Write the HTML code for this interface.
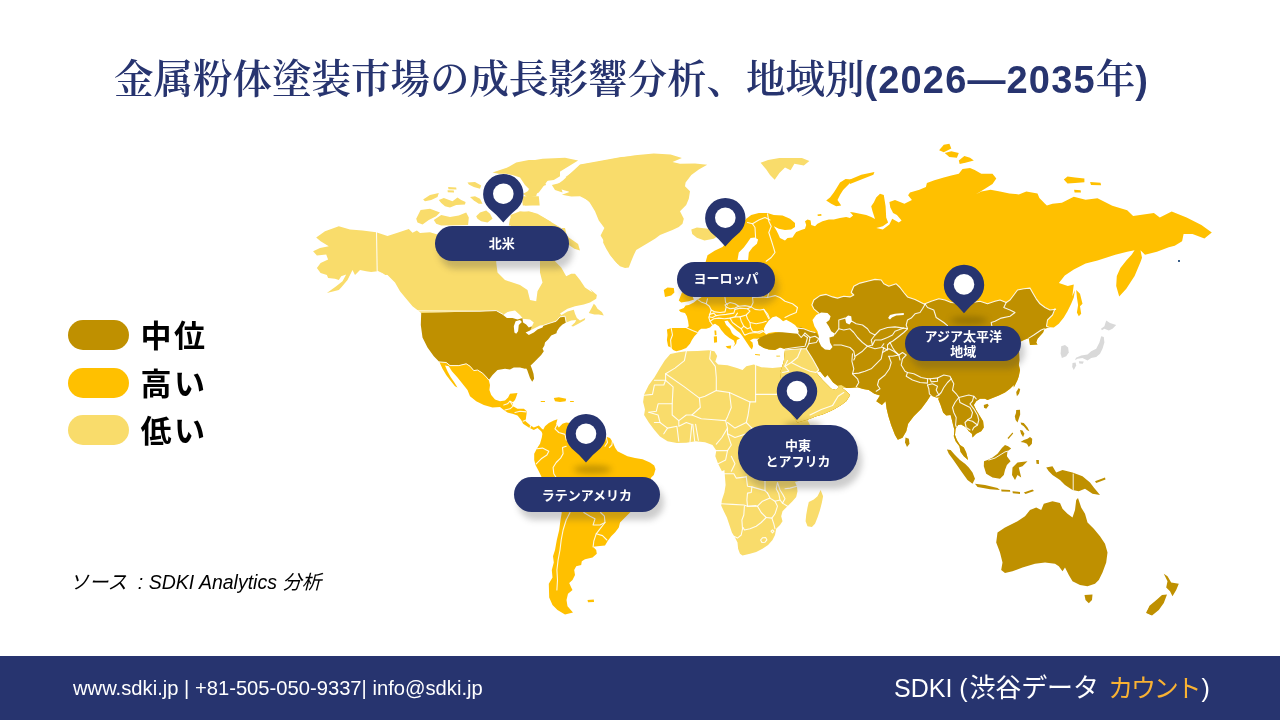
<!DOCTYPE html>
<html lang="ja">
<head>
<meta charset="utf-8">
<title>金属粉体塗装市場の成長影響分析、地域別</title>
<style>
html,body{margin:0;padding:0;}
body{width:1280px;height:720px;position:relative;overflow:hidden;background:#fff;font-family:"Liberation Sans","Noto Sans CJK JP",sans-serif;}
#title{position:absolute;left:114px;top:51.5px;height:56px;line-height:56px;white-space:nowrap;color:#27346f;font-family:"Liberation Serif","Noto Serif CJK JP","Noto Serif CJK SC",serif;font-size:39.5px;font-weight:600;letter-spacing:0px;}
#title b{font-family:"Liberation Sans","Noto Sans CJK JP",sans-serif;font-weight:700;font-size:38px;letter-spacing:1.15px;}
.pill{position:absolute;left:68px;width:61px;height:30px;border-radius:15px;}
.lg{position:absolute;left:140.5px;font-size:31px;font-weight:700;color:#000;letter-spacing:2.6px;margin-top:1px;height:40px;line-height:40px;white-space:nowrap;font-family:"Liberation Sans","Noto Sans CJK JP",sans-serif;}
#src{position:absolute;left:69.5px;top:567.8px;height:28px;line-height:28px;font-size:19.5px;font-style:italic;color:#000;white-space:nowrap;}
#footer{position:absolute;left:0;top:656px;width:1280px;height:64px;background:#27346f;}
#fl{position:absolute;left:73px;top:672px;height:32px;line-height:32px;color:#fff;font-size:20.2px;white-space:nowrap;}
#fr{position:absolute;left:894px;top:670px;height:36px;line-height:36px;color:#fff;font-size:25px;white-space:nowrap;}
#fr span{color:#f9b233;letter-spacing:-2.3px;margin-right:2.5px;margin-left:2.4px;}
#fr i.k{font-style:normal;font-size:26px;letter-spacing:-0.1px;margin-left:1.8px;}
#map{position:absolute;left:0;top:0;width:1280px;height:720px;}
.lab{position:absolute;background:#27346f;color:#fff;font-weight:700;font-size:13px;text-align:center;white-space:nowrap;font-family:"Liberation Sans","Noto Sans CJK JP",sans-serif;box-shadow:4px 8px 6px rgba(60,60,60,0.26);}
.lab div{position:absolute;left:0;width:100%;height:16px;line-height:16px;}
</style>
</head>
<body>
<svg id="map" viewBox="0 0 1280 720">
<!--MAP-->
<polygon points="316.2,237.5 325.0,231.2 338.8,226.2 350.0,229.4 362.5,230.6 376.2,232.2 387.5,236.0 397.5,232.8 408.8,229.0 412.5,232.8 416.9,230.6 420.0,233.1 430.0,232.2 437.5,234.4 437.5,237.5 462.5,237.5 462.5,292.5 403.8,292.5 400.0,286.2 395.0,280.0 390.0,274.4 385.0,275.0 377.5,271.2 371.2,271.9 366.2,271.2 360.0,270.0 355.0,275.0 352.5,270.0 347.5,280.0 341.2,287.5 338.8,290.0 326.9,293.1 336.2,286.2 342.5,281.2 346.2,274.4 341.2,276.2 338.8,280.0 335.0,278.8 328.1,278.1 326.9,275.0 320.6,273.1 316.9,268.1 320.6,263.1 328.1,259.4 326.2,254.4 316.9,255.6 313.1,251.2 320.0,248.1 328.8,246.2 320.6,241.2" fill="#f9dc6b"/>
<polygon points="416.2,218.8 420.6,210.0 430.0,208.8 440.0,212.5 436.2,216.2 428.8,220.0 422.5,224.4 417.5,222.5" fill="#f9dc6b"/>
<polygon points="433.8,220.0 441.2,215.0 450.0,216.9 458.8,215.6 466.2,212.5 468.8,217.5 468.1,225.0 441.2,225.6 436.2,223.8" fill="#f9dc6b"/>
<polygon points="423.1,199.4 430.0,195.0 438.8,193.1 437.5,196.9 431.2,200.0 425.0,201.2" fill="#f9dc6b"/>
<polygon points="438.8,200.0 443.8,198.1 452.5,201.2 457.5,197.5 461.2,200.0 465.6,201.9 465.0,204.4 456.2,205.0 450.0,207.5 445.0,206.2 441.2,203.1" fill="#f9dc6b"/>
<polygon points="448.1,186.9 456.2,187.5 456.5,189.5 448.5,189.2" fill="#f9dc6b"/>
<polygon points="447.5,190.2 453.8,190.5 454.0,192.5 447.8,192.2" fill="#f9dc6b"/>
<polygon points="467.5,182.5 475.0,181.9 481.2,185.6 480.0,188.8 473.8,186.9 468.8,184.4" fill="#f9dc6b"/>
<polygon points="470.0,196.9 475.0,196.2 480.0,198.8 482.5,203.8 478.8,203.8 473.8,200.6" fill="#f9dc6b"/>
<polygon points="476.2,216.2 480.0,212.5 486.2,210.6 490.0,213.8 492.5,218.8 487.5,222.5 481.2,221.2 477.5,218.8" fill="#f9dc6b"/>
<polygon points="523.1,193.8 530.0,190.0 537.5,191.2 536.2,196.2 527.5,197.5" fill="#f9dc6b"/>
<polygon points="523.8,202.5 531.2,201.9 532.5,205.0 525.0,205.6" fill="#f9dc6b"/>
<polygon points="510.0,218.8 520.0,212.5 528.8,211.2 537.5,213.8 543.8,217.5 550.0,221.2 553.8,225.6 508.8,225.6" fill="#f9dc6b"/>
<polygon points="492.5,172.5 500.0,170.0 507.5,167.5 516.2,162.5 528.8,160.0 560.0,160.0 560.0,176.2 553.8,180.0 543.8,181.2 546.2,185.0 537.5,187.5 528.8,188.8 525.0,185.0 520.0,177.5 512.5,175.0 506.2,173.8 498.8,173.8" fill="#f9dc6b"/>
<polygon points="551.9,185.0 560.0,183.1 562.5,192.5 555.0,190.0" fill="#f9dc6b"/>
<polygon points="506.9,168.1 520.0,162.5 542.5,158.8 565.0,157.8 578.1,160.6 568.8,166.3 559.4,171.9 550.0,177.5 544.4,185.0 538.8,192.5 531.3,196.3 527.5,192.5 531.3,183.1 523.8,177.5 514.4,173.8" fill="#f9dc6b"/>
<polygon points="521.9,196.3 538.8,196.3 539.7,205.6 522.8,205.6" fill="#f9dc6b"/>
<polygon points="510.6,215.0 520.0,211.3 531.3,212.2 542.5,216.9 551.9,222.5 561.3,228.1 568.8,237.5 578.1,244.1 580.0,250.6 574.4,248.8 568.8,245.0 565.0,228.1 510.6,228.1" fill="#f9dc6b"/>
<polygon points="580.0,164.4 621.3,156.9 630.6,156.5 630.6,252.5 625.9,267.5 617.5,263.8 610.0,254.4 606.3,245.0 600.6,235.6 604.4,228.1 598.8,220.6 595.0,211.3 589.4,201.9 580.0,194.4 565.0,190.6 553.8,186.9 563.1,180.3" fill="#f9dc6b"/>
<polygon points="375.0,245.0 380.0,271.2 387.5,275.0 395.0,282.5 400.0,291.2 406.2,298.8 412.5,306.2 421.2,313.0 480.0,311.2 496.2,310.6 503.1,314.4 512.5,315.0 522.5,318.5 530.0,323.8 531.9,326.9 530.0,331.2 535.0,328.8 540.0,326.2 543.8,325.2 550.0,323.1 556.2,321.2 560.0,316.9 565.0,316.2 566.2,322.5 571.2,320.6 576.2,320.0 575.0,322.5 571.2,325.9 573.1,326.5 578.8,323.5 584.8,320.0 585.2,318.0 580.0,320.4 576.9,318.1 575.0,313.8 573.8,309.8 567.5,311.5 561.5,315.0 560.0,313.5 567.5,308.8 575.0,306.2 583.8,304.4 590.0,302.5 596.2,298.8 596.9,295.0 592.5,291.2 590.0,288.8 592.5,292.5 585.0,287.5 580.0,280.0 575.0,273.8 571.2,273.8 566.2,276.2 561.2,267.5 555.0,261.2 555.0,245.0 540.0,245.0 540.0,262.5 540.0,272.5 542.5,282.5 537.5,291.2 536.2,301.2 530.0,300.0 527.5,290.0 520.0,285.0 505.0,280.0 497.5,272.5 496.2,262.5 496.2,245.0" fill="#f9dc6b"/>
<polygon points="421.2,313.0 480.0,311.2 496.2,310.6 503.1,314.4 512.5,315.0 522.5,318.5 530.0,323.8 531.9,326.9 530.0,331.2 535.0,328.8 540.0,326.2 543.8,325.2 550.0,323.1 556.2,321.2 560.0,316.9 565.0,316.2 566.2,322.5 562.5,324.4 559.4,327.5 556.9,331.2 556.5,333.2 551.2,335.6 548.1,339.4 545.0,342.5 544.4,345.6 542.5,348.8 543.8,351.2 541.2,355.0 537.5,358.8 533.8,362.5 530.6,365.6 531.9,368.8 533.5,373.8 534.1,378.8 532.2,381.8 530.0,378.1 528.5,373.8 527.2,370.0 526.2,368.5 525.0,368.8 520.0,367.5 513.8,367.5 510.0,369.4 505.0,368.8 497.5,370.0 492.5,375.0 488.8,380.0 486.2,376.9 482.5,373.1 477.5,370.0 473.8,370.6 470.0,366.2 466.2,363.8 458.8,365.6 450.0,365.6 446.2,362.5 439.4,361.9 433.8,356.2 427.5,347.5 422.5,337.5 420.8,325.0" fill="#bf9000"/>
<polygon points="503.1,315.0 507.5,311.9 515.0,310.6 520.0,315.0 522.5,318.1 517.5,319.4 512.5,318.1 506.9,318.1" fill="#ffffff"/>
<polygon points="514.4,332.5 513.8,326.2 515.6,321.2 520.0,320.0 521.9,321.9 518.8,325.0 518.1,331.2 516.2,333.8" fill="#ffffff"/>
<polygon points="522.5,318.8 530.0,319.4 533.8,322.5 531.9,326.2 528.8,327.5 526.2,324.4 523.1,322.5" fill="#ffffff"/>
<polygon points="525.6,332.5 530.0,330.6 535.0,328.1 540.0,325.6 543.8,325.0 542.5,327.5 537.5,329.4 533.8,332.5 528.8,335.0" fill="#ffffff"/>
<polygon points="588.8,313.1 591.2,308.8 593.8,303.8 595.6,305.6 597.5,308.8 601.9,311.9 603.8,315.6 598.8,314.4 594.4,314.4" fill="#f9dc6b"/>
<polygon points="439.4,361.9 446.2,362.5 450.0,365.6 458.8,365.6 466.2,363.8 470.0,366.2 473.8,370.6 477.5,370.0 482.5,373.1 486.2,376.9 488.8,380.0 490.0,385.0 489.4,390.0 491.2,395.0 495.0,399.4 500.0,401.2 505.0,400.6 508.1,397.5 510.0,393.8 517.5,393.1 516.2,396.9 515.0,400.0 512.5,402.5 513.1,406.2 517.5,408.8 523.8,408.8 526.9,411.2 526.2,416.2 525.6,421.2 530.0,425.0 533.8,427.5 538.8,425.6 541.9,428.8 543.8,430.0 546.2,432.5 543.1,434.4 541.2,431.2 537.5,428.1 533.8,430.0 528.8,427.5 523.1,423.8 521.2,420.0 517.5,415.6 512.5,413.8 507.5,412.5 503.8,410.0 500.0,406.9 492.5,407.5 483.8,405.0 476.2,401.2 470.0,396.2 467.5,390.0 462.5,383.8 457.5,377.5 451.9,371.2 448.8,366.2 445.0,365.6 447.5,371.2 450.6,376.9 454.4,382.5 457.5,387.5 455.0,386.2 450.0,380.0 446.2,375.0 442.5,368.8" fill="#ffc000"/>
<polygon points="553.8,398.1 558.8,397.2 566.2,398.8 565.6,401.2 560.0,401.9 555.0,401.2" fill="#ffc000"/>
<polygon points="540.6,401.0 545.0,401.0 545.0,402.0 540.9,402.0" fill="#ffc000"/>
<polygon points="570.0,401.0 573.8,401.0 573.8,402.0 570.2,402.0" fill="#ffc000"/>
<polygon points="543.0,430.0 545.0,426.2 548.8,423.0 553.8,420.5 557.5,419.2 556.2,423.8 558.8,427.5 562.5,423.8 566.2,422.5 585.0,425.0 606.2,436.8 610.0,438.0 613.0,442.5 615.0,447.5 617.5,451.2 622.5,453.8 627.5,456.2 635.0,458.0 642.5,459.2 650.0,462.5 654.2,465.5 655.5,469.2 653.8,475.0 651.2,477.5 645.0,500.0 630.0,512.5 625.0,517.5 620.0,522.5 618.8,527.5 615.0,532.5 611.2,536.2 607.5,541.2 605.0,545.5 597.5,546.2 593.0,546.8 596.2,550.0 596.8,553.8 592.5,557.5 585.0,559.2 581.8,561.2 581.2,565.0 576.2,566.2 574.2,570.0 575.0,575.0 572.5,580.0 569.2,583.0 571.2,587.5 572.5,590.0 568.0,593.8 566.5,600.0 567.5,606.2 573.0,612.5 565.0,614.5 557.5,610.0 552.5,605.0 549.2,597.5 548.8,583.8 552.5,577.5 551.8,570.0 553.8,562.5 553.0,556.2 555.0,550.0 556.8,540.0 559.2,530.0 560.5,520.0 561.8,512.5 550.0,495.0 541.2,476.2 538.8,471.2 535.5,465.0 534.2,460.0 534.2,453.8 536.8,448.8 540.0,443.8 541.8,437.5" fill="#ffc000"/>
<polygon points="587.5,600.0 593.8,599.5 594.0,602.0 588.0,602.2" fill="#ffc000"/>
<polygon points="670.3,354.1 678.8,352.2 686.3,351.3 697.5,350.9 708.8,350.3 714.4,351.3 717.2,355.9 715.3,361.6 718.1,364.4 727.5,365.3 736.9,368.1 742.5,370.0 746.3,366.3 753.8,364.4 761.3,367.2 772.5,368.1 780.0,367.2 784.7,366.3 795.0,380.0 800.0,400.0 805.0,415.0 810.0,425.0 840.0,435.0 840.0,470.0 795.0,481.9 796.9,486.2 797.5,491.2 796.2,496.9 792.5,501.2 787.5,506.2 782.5,511.2 781.2,516.2 782.5,521.2 780.0,525.0 776.2,528.8 775.0,535.0 772.5,540.0 768.1,545.0 762.5,548.8 756.2,551.9 750.0,553.8 742.5,555.6 740.0,553.8 738.1,548.8 737.5,542.5 735.0,537.5 731.9,532.5 729.4,525.0 726.9,517.5 723.8,511.2 721.2,505.6 721.9,500.0 724.4,492.5 725.6,485.0 725.0,477.5 724.4,470.0 721.9,471.3 718.1,463.8 715.3,456.3 716.3,450.6 712.5,445.0 705.0,442.2 695.6,441.3 686.3,442.8 676.9,443.1 667.5,441.3 660.0,436.6 654.4,430.0 648.8,422.5 644.1,415.0 645.0,409.4 643.1,401.9 644.1,394.4 648.8,385.0 654.4,377.5 660.0,368.1 664.7,360.6" fill="#f9dc6b"/>
<polygon points="820.6,490.0 823.1,496.2 821.9,502.5 820.0,510.0 817.5,517.5 815.0,523.8 811.9,526.9 807.5,526.2 805.6,521.2 806.2,515.0 807.5,507.5 808.8,501.9 813.8,499.4 817.5,496.2 819.4,492.5" fill="#f9dc6b"/>
<polygon points="785.0,350.0 801.2,348.8 806.2,348.8 812.5,358.8 818.8,370.0 816.2,372.5 822.5,380.0 827.5,385.0 831.2,388.8 836.2,390.0 840.0,386.2 846.2,391.2 850.2,395.0 846.2,401.2 841.2,405.0 835.0,408.8 830.0,411.2 822.5,414.4 816.2,416.2 810.0,418.8 806.2,420.0 797.5,422.5 785.0,405.0 780.0,372.5 781.9,367.5 783.8,361.2" fill="#f9dc6b"/>
<clipPath id="eu"><polygon points="701.9,296.3 705.6,261.9 707.5,255.3 715.0,250.6 722.5,246.9 746.2,218.8 751.2,215.0 758.8,213.1 767.5,213.1 773.8,215.0 782.5,215.6 790.0,218.8 795.0,223.1 795.0,226.9 791.2,229.4 785.0,230.0 778.8,228.8 773.8,226.2 776.2,230.0 778.1,233.8 780.0,238.1 785.0,240.6 787.5,238.1 792.5,237.5 794.4,234.4 796.2,231.9 801.2,230.0 805.0,228.8 806.2,225.0 805.0,221.2 807.5,219.4 810.6,220.6 811.2,225.0 815.0,226.2 817.5,223.8 822.5,221.2 828.8,219.4 833.8,219.4 840.0,218.1 846.2,216.9 850.0,218.1 853.1,215.6 850.0,211.9 853.8,212.5 860.0,213.8 866.2,215.0 871.2,216.9 875.0,219.0 872.5,211.2 871.2,206.2 873.8,202.5 876.2,197.5 880.0,193.8 883.8,195.0 885.6,206.2 886.2,217.5 888.1,222.5 882.8,226.3 876.3,228.1 882.8,229.6 889.4,224.4 892.2,218.8 898.8,222.5 901.6,220.6 896.9,215.0 893.1,213.1 890.3,207.5 889.4,201.9 895.0,200.0 904.4,203.8 911.9,200.0 908.1,195.3 910.0,192.5 919.4,189.7 925.9,186.9 926.9,183.1 934.4,180.3 943.8,177.5 951.3,175.6 958.8,173.8 962.5,169.1 970.0,168.1 974.7,170.0 981.3,173.8 992.5,173.8 996.3,178.4 992.5,184.1 985.0,188.8 975.6,194.4 981.3,191.6 990.6,189.7 1000.0,191.6 1009.4,193.4 1018.8,194.4 1026.3,191.6 1037.5,193.4 1039.4,198.1 1045.0,203.8 1046.9,205.6 1052.5,203.8 1061.9,202.7 1073.8,196.8 1085.6,199.8 1097.5,198.3 1112.3,205.7 1127.2,210.2 1133.1,216.1 1153.9,213.1 1159.8,217.6 1171.7,211.6 1186.6,217.6 1201.4,225.0 1211.8,232.4 1204.4,238.4 1192.5,233.9 1183.6,233.9 1182.1,241.3 1174.7,245.8 1168.8,247.3 1156.9,251.7 1145.0,254.7 1140.5,250.2 1142.0,257.7 1140.5,262.1 1134.6,276.1 1126.3,288.8 1119.2,296.5 1116.2,285.9 1116.8,276.1 1120.4,268.0 1126.3,260.6 1131.6,254.7 1134.6,250.2 1127.2,251.7 1115.3,254.7 1097.5,260.6 1085.6,263.6 1073.8,269.5 1064.8,275.5 1058.9,282.9 1067.8,285.9 1073.8,284.4 1072.3,296.3 1075.0,290.0 1073.8,297.5 1071.2,303.8 1067.5,311.2 1063.8,317.5 1058.8,323.8 1053.8,327.5 1050.0,327.2 1044.4,328.8 1043.1,332.5 1037.5,338.8 1036.2,342.5 1037.5,344.4 1030.0,345.0 1029.4,341.2 1028.8,338.1 1025.0,339.4 1021.2,341.2 1018.8,345.0 1019.4,360.0 1018.8,365.0 1020.0,370.0 1018.8,376.2 1017.5,380.0 1013.8,387.5 1013.8,385.0 1010.0,388.8 1005.0,392.5 998.8,395.6 992.5,398.1 987.5,400.0 985.0,398.8 980.0,398.8 976.2,401.2 973.8,405.0 976.2,410.0 980.0,416.2 983.1,421.2 983.8,427.5 981.2,431.2 976.2,433.8 972.5,437.5 971.9,433.8 968.8,431.2 966.2,427.5 961.2,424.4 958.1,425.0 955.6,428.8 955.0,435.0 956.9,440.0 960.0,445.0 963.8,447.5 966.2,452.5 967.5,457.5 968.1,460.0 963.8,456.2 960.6,451.9 959.4,446.2 955.6,441.2 953.8,436.2 954.4,430.0 953.1,425.0 951.9,420.0 950.6,415.0 946.2,415.6 943.1,412.5 940.6,405.0 938.1,398.8 940.0,397.5 936.3,397.5 930.6,395.6 926.9,401.3 921.3,408.8 913.8,416.3 908.1,423.8 906.3,431.3 902.5,437.8 897.8,439.7 895.0,435.0 891.3,425.6 888.4,416.3 886.6,408.8 885.6,401.3 881.9,405.0 876.3,401.3 880.0,395.6 874.4,393.8 868.8,390.0 863.1,389.1 857.5,387.2 850.0,388.1 840.6,388.1 833.1,382.5 827.5,375.0 825.0,377.5 820.0,371.2 816.2,372.5 822.5,380.0 827.5,385.0 831.2,388.8 836.2,390.0 840.0,386.2 846.2,391.2 850.2,395.0 846.2,401.2 841.2,405.0 835.0,408.8 830.0,411.2 822.5,414.4 816.2,416.2 810.0,418.8 806.2,420.0 797.5,422.5 785.0,405.0 780.0,372.5 781.9,367.5 783.8,361.2 785.0,350.0 785.0,349.0 780.0,347.5 775.0,350.0 768.8,349.4 763.8,348.1 758.8,345.0 757.5,340.0 760.0,338.1 756.9,338.5 753.1,338.8 750.0,340.6 752.5,342.5 753.1,346.2 751.9,349.4 750.0,347.5 747.5,343.8 745.0,340.0 742.5,336.2 740.0,333.1 736.2,330.0 733.1,326.9 730.0,323.8 727.5,320.6 724.4,321.2 726.2,325.0 730.0,328.8 731.9,333.1 733.8,335.0 737.5,336.9 740.0,338.5 736.9,340.0 736.2,343.8 733.1,346.9 735.0,343.8 733.8,340.6 729.4,338.1 725.0,334.4 721.2,330.0 718.8,326.2 715.0,323.8 712.5,325.0 710.0,327.5 706.2,328.8 701.2,328.8 698.8,330.6 697.5,333.1 694.4,336.2 691.9,340.0 690.0,343.8 686.2,348.1 681.2,350.0 676.2,351.2 673.1,350.0 671.2,347.5 668.1,346.2 666.9,340.0 667.5,335.0 666.9,329.4 671.2,328.1 678.8,328.1 686.9,328.1 688.8,326.2 688.1,321.2 686.9,316.2 685.0,313.1 680.6,311.9 678.8,310.0 683.8,308.1 685.6,305.6 688.8,305.0 693.8,302.5 697.5,299.4 701.2,297.5"/></clipPath>
<g clip-path="url(#eu)">
<polygon points="600.0,100.0 1280.0,100.0 1280.0,700.0 600.0,700.0" fill="#ffc000"/>
<polygon points="755.0,355.0 755.6,338.8 758.8,338.0 766.2,334.8 797.5,328.1 800.0,326.9 805.0,328.8 811.2,331.2 816.2,332.5 818.8,336.2 818.8,313.1 813.8,308.8 811.9,305.0 813.8,300.0 820.0,295.6 826.2,294.4 832.5,296.9 837.5,298.1 843.8,296.2 850.0,296.9 853.8,295.0 851.2,292.5 853.8,286.2 860.0,283.1 867.5,281.2 875.0,279.4 881.2,280.0 883.8,283.8 888.8,286.2 896.2,283.8 900.0,287.5 903.8,292.5 907.5,296.9 915.0,299.4 920.0,301.9 925.0,304.4 925.0,303.8 931.2,301.2 938.8,298.8 945.0,300.0 951.2,302.5 963.8,303.8 980.0,301.2 987.5,303.8 995.0,301.2 1000.0,300.0 1006.2,302.5 1010.0,300.0 1013.8,295.0 1017.5,290.0 1023.8,288.8 1030.0,288.1 1032.5,292.5 1036.2,298.8 1040.0,303.8 1045.0,307.5 1050.0,310.0 1055.6,309.4 1052.5,315.0 1047.5,320.0 1046.5,326.2 1049.4,327.5 1052.5,331.2 1160.0,340.0 1280.0,340.0 1280.0,700.0 740.0,700.0 752.5,401.3" fill="#bf9000"/>
<polygon points="783.8,350.0 801.2,348.8 806.2,348.8 812.5,358.8 818.8,370.0 818.8,373.1 826.2,380.0 835.0,386.2 841.2,385.0 847.5,388.8 860.0,400.0 847.5,425.0 772.5,425.0 772.5,350.0" fill="#f9dc6b"/>
<polyline points="818.8,313.1 813.8,308.8 811.9,305.0 813.8,300.0 820.0,295.6 826.2,294.4 832.5,296.9 837.5,298.1 843.8,296.2 850.0,296.9 853.8,295.0 851.2,292.5 853.8,286.2 860.0,283.1 867.5,281.2 875.0,279.4 881.2,280.0 883.8,283.8 888.8,286.2 896.2,283.8 900.0,287.5 903.8,292.5 907.5,296.9 915.0,299.4 920.0,301.9 925.0,304.4" fill="none" stroke="#fff" stroke-opacity="0.9" stroke-width="1.1" stroke-linejoin="round" stroke-linecap="round"/>
<polyline points="925.0,303.8 931.2,301.2 938.8,298.8 945.0,300.0 951.2,302.5 963.8,303.8 980.0,301.2 987.5,303.8 995.0,301.2 1000.0,300.0 1006.2,302.5 1010.0,300.0 1013.8,295.0 1017.5,290.0 1023.8,288.8 1030.0,288.1 1032.5,292.5 1036.2,298.8 1040.0,303.8 1045.0,307.5 1050.0,310.0 1055.6,309.4" fill="none" stroke="#fff" stroke-opacity="0.9" stroke-width="1.1" stroke-linejoin="round" stroke-linecap="round"/>
<polyline points="1055.0,308.8 1052.5,315.0 1047.5,320.0 1046.5,326.2 1049.4,327.5" fill="none" stroke="#fff" stroke-opacity="0.9" stroke-width="1.1" stroke-linejoin="round" stroke-linecap="round"/>
<polyline points="1028.8,338.1 1033.8,335.0 1041.2,330.0 1044.4,328.8" fill="none" stroke="#fff" stroke-opacity="0.9" stroke-width="1.1" stroke-linejoin="round" stroke-linecap="round"/>
<polyline points="925.0,303.8 927.5,307.5 933.8,310.0 936.2,317.5 943.8,322.5 947.5,325.6" fill="none" stroke="#fff" stroke-opacity="0.9" stroke-width="1.1" stroke-linejoin="round" stroke-linecap="round"/>
<polyline points="1006.2,302.5 1003.8,307.5 1010.0,310.0 1015.0,312.5 1010.0,316.2 1001.2,318.1 995.0,321.2 991.2,322.5 991.9,326.2" fill="none" stroke="#fff" stroke-opacity="0.9" stroke-width="1.1" stroke-linejoin="round" stroke-linecap="round"/>
<polyline points="925.0,304.4 922.5,308.8 920.0,312.5 915.0,313.8 911.2,318.1 907.5,320.0 906.2,325.0 907.5,328.8 903.8,332.5 897.5,337.5 892.5,341.2 890.0,342.5 892.5,347.5 895.0,351.2 898.8,355.0 900.0,360.0" fill="none" stroke="#fff" stroke-opacity="0.9" stroke-width="1.1" stroke-linejoin="round" stroke-linecap="round"/>
<polyline points="835.0,333.8 838.8,328.8 838.8,320.0 845.0,318.1" fill="none" stroke="#fff" stroke-opacity="0.9" stroke-width="1.1" stroke-linejoin="round" stroke-linecap="round"/>
<polyline points="851.9,321.2 856.2,323.8 862.5,325.0 867.5,328.8 870.0,332.5 875.0,335.0 880.0,330.0 887.5,327.5 895.0,326.9 903.8,328.1 907.5,328.8" fill="none" stroke="#fff" stroke-opacity="0.9" stroke-width="1.1" stroke-linejoin="round" stroke-linecap="round"/>
<polyline points="838.8,328.8 843.8,330.0 850.0,328.8 853.8,332.5 857.5,337.5 862.5,342.5 867.5,346.2 872.5,345.0 871.2,340.0 875.0,335.0" fill="none" stroke="#fff" stroke-opacity="0.9" stroke-width="1.1" stroke-linejoin="round" stroke-linecap="round"/>
<polyline points="833.8,345.0 841.2,345.0 850.0,347.5 853.8,351.2 855.0,357.5 853.8,360.0" fill="none" stroke="#fff" stroke-opacity="0.9" stroke-width="1.1" stroke-linejoin="round" stroke-linecap="round"/>
<polyline points="855.0,356.2 862.5,351.2 867.5,346.2 875.0,348.8 881.2,347.5 883.8,343.8" fill="none" stroke="#fff" stroke-opacity="0.9" stroke-width="1.1" stroke-linejoin="round" stroke-linecap="round"/>
<polyline points="872.5,345.0 875.0,340.0 881.2,340.0 887.5,337.5 892.5,335.0 895.0,331.2 903.8,328.1" fill="none" stroke="#fff" stroke-opacity="0.9" stroke-width="1.1" stroke-linejoin="round" stroke-linecap="round"/>
<polyline points="890.0,342.5 887.5,345.0 887.5,350.0 882.5,347.5" fill="none" stroke="#fff" stroke-opacity="0.9" stroke-width="1.1" stroke-linejoin="round" stroke-linecap="round"/>
<polyline points="852.5,353.8 851.9,361.2 853.8,368.8 852.5,373.8 857.5,378.8 858.8,382.5 856.2,386.9" fill="none" stroke="#fff" stroke-opacity="0.9" stroke-width="1.1" stroke-linejoin="round" stroke-linecap="round"/>
<polyline points="883.8,347.5 882.5,352.5 881.2,358.8 876.2,363.8 871.2,368.8 865.0,371.2 858.8,373.1 852.5,373.8" fill="none" stroke="#fff" stroke-opacity="0.9" stroke-width="1.1" stroke-linejoin="round" stroke-linecap="round"/>
<polyline points="888.8,356.2 891.2,362.5 889.4,368.8 885.0,375.0 878.8,380.0 877.5,385.0 880.0,388.8 876.2,391.2" fill="none" stroke="#fff" stroke-opacity="0.9" stroke-width="1.1" stroke-linejoin="round" stroke-linecap="round"/>
<polyline points="882.5,352.5 888.8,348.8 893.8,351.2 898.8,355.0 892.5,356.2 888.8,356.2" fill="none" stroke="#fff" stroke-opacity="0.9" stroke-width="1.1" stroke-linejoin="round" stroke-linecap="round"/>
<polyline points="898.8,355.0 902.5,352.5 906.2,355.0 902.5,358.8 901.2,365.0 905.0,371.2 907.5,372.5 913.8,373.8 921.2,377.5 927.5,378.8 930.0,378.8 936.2,378.1 937.5,378.1 943.8,375.0 950.0,376.2 951.2,378.8" fill="none" stroke="#fff" stroke-opacity="0.9" stroke-width="1.1" stroke-linejoin="round" stroke-linecap="round"/>
<polyline points="907.5,372.5 906.2,376.2 912.5,380.0 920.0,382.5 927.5,383.1 927.5,378.8" fill="none" stroke="#fff" stroke-opacity="0.9" stroke-width="1.1" stroke-linejoin="round" stroke-linecap="round"/>
<polyline points="930.0,378.8 931.2,381.9 937.5,381.2 937.5,378.1" fill="none" stroke="#fff" stroke-opacity="0.9" stroke-width="1.1" stroke-linejoin="round" stroke-linecap="round"/>
<polyline points="927.5,385.0 932.5,383.8 937.5,386.2 936.2,390.0 938.8,395.0 936.2,396.2" fill="none" stroke="#fff" stroke-opacity="0.9" stroke-width="1.1" stroke-linejoin="round" stroke-linecap="round"/>
<polyline points="927.5,385.0 928.8,388.8 929.4,393.8 932.5,396.9" fill="none" stroke="#fff" stroke-opacity="0.9" stroke-width="1.1" stroke-linejoin="round" stroke-linecap="round"/>
<polyline points="951.2,378.8 947.5,382.5 943.8,387.5 941.2,392.5 938.8,395.0" fill="none" stroke="#fff" stroke-opacity="0.9" stroke-width="1.1" stroke-linejoin="round" stroke-linecap="round"/>
<polyline points="951.2,378.8 953.8,383.8 952.5,390.0 956.2,393.8 958.8,397.5 963.8,396.2 968.8,395.0 973.8,396.2 976.2,398.8" fill="none" stroke="#fff" stroke-opacity="0.9" stroke-width="1.1" stroke-linejoin="round" stroke-linecap="round"/>
<polyline points="958.8,397.5 955.0,402.5 952.5,407.5 953.8,412.5 956.2,417.5 955.6,425.0 957.5,430.0" fill="none" stroke="#fff" stroke-opacity="0.9" stroke-width="1.1" stroke-linejoin="round" stroke-linecap="round"/>
<polyline points="958.8,397.5 960.0,402.5 965.0,405.0 970.0,407.5 972.5,412.5 971.2,417.5 967.5,420.0 965.0,422.5 966.2,427.5 970.0,430.0" fill="none" stroke="#fff" stroke-opacity="0.9" stroke-width="1.1" stroke-linejoin="round" stroke-linecap="round"/>
<polyline points="973.8,396.2 972.5,401.2 970.0,403.8 973.8,408.8 977.5,415.0 978.8,420.0 977.5,425.0 973.8,427.5 972.5,430.0" fill="none" stroke="#fff" stroke-opacity="0.9" stroke-width="1.1" stroke-linejoin="round" stroke-linecap="round"/>
<polyline points="967.5,420.0 972.5,421.2 977.5,425.0" fill="none" stroke="#fff" stroke-opacity="0.9" stroke-width="1.1" stroke-linejoin="round" stroke-linecap="round"/>
<polyline points="805.0,333.1 810.0,337.5 808.8,343.8 806.2,348.8 812.5,358.8 818.8,370.0 816.2,372.5" fill="none" stroke="#fff" stroke-opacity="0.9" stroke-width="1.1" stroke-linejoin="round" stroke-linecap="round"/>
<polyline points="783.8,350.0 801.2,348.8 806.2,348.8" fill="none" stroke="#fff" stroke-opacity="0.9" stroke-width="1.1" stroke-linejoin="round" stroke-linecap="round"/>
<polyline points="801.2,348.8 797.5,357.5 791.2,362.5 785.0,366.2 788.8,371.2 782.5,372.5" fill="none" stroke="#fff" stroke-opacity="0.9" stroke-width="1.1" stroke-linejoin="round" stroke-linecap="round"/>
<polyline points="791.2,362.5 801.2,367.5 810.0,371.2 816.2,372.5" fill="none" stroke="#fff" stroke-opacity="0.9" stroke-width="1.1" stroke-linejoin="round" stroke-linecap="round"/>
<polyline points="797.5,333.1 801.2,337.5 805.0,333.1" fill="none" stroke="#fff" stroke-opacity="0.9" stroke-width="1.1" stroke-linejoin="round" stroke-linecap="round"/>
<polyline points="810.0,337.5 815.0,336.2 818.8,338.8 816.2,342.5 808.8,343.8" fill="none" stroke="#fff" stroke-opacity="0.9" stroke-width="1.1" stroke-linejoin="round" stroke-linecap="round"/>
<polyline points="671.2,328.1 672.5,335.0 670.6,340.0 671.2,347.5" fill="none" stroke="#fff" stroke-opacity="0.9" stroke-width="1.1" stroke-linejoin="round" stroke-linecap="round"/>
<polyline points="686.9,328.1 692.5,330.6 697.5,332.5" fill="none" stroke="#fff" stroke-opacity="0.9" stroke-width="1.1" stroke-linejoin="round" stroke-linecap="round"/>
<polyline points="697.5,299.4 701.2,301.9 706.2,303.8 709.4,306.2 711.2,310.0 710.0,313.8 708.8,317.5 710.0,321.2 712.5,325.0" fill="none" stroke="#fff" stroke-opacity="0.9" stroke-width="1.1" stroke-linejoin="round" stroke-linecap="round"/>
<polyline points="706.2,303.8 707.5,298.8" fill="none" stroke="#fff" stroke-opacity="0.9" stroke-width="1.1" stroke-linejoin="round" stroke-linecap="round"/>
<polyline points="725.0,297.5 725.6,302.5 727.5,305.0" fill="none" stroke="#fff" stroke-opacity="0.9" stroke-width="1.1" stroke-linejoin="round" stroke-linecap="round"/>
<polyline points="725.0,305.0 730.0,302.5 735.0,303.8 738.8,306.2 735.0,308.1 730.0,308.8 726.2,306.9 725.0,305.0" fill="none" stroke="#fff" stroke-opacity="0.9" stroke-width="1.1" stroke-linejoin="round" stroke-linecap="round"/>
<polyline points="711.2,310.0 715.0,311.9 720.0,312.5 725.0,311.9 726.2,306.9" fill="none" stroke="#fff" stroke-opacity="0.9" stroke-width="1.1" stroke-linejoin="round" stroke-linecap="round"/>
<polyline points="709.4,314.4 713.8,313.1 716.2,315.6 712.5,317.5 709.4,316.9" fill="none" stroke="#fff" stroke-opacity="0.9" stroke-width="1.1" stroke-linejoin="round" stroke-linecap="round"/>
<polyline points="716.2,315.6 720.0,315.0 726.2,314.4 733.8,313.1 735.0,309.4" fill="none" stroke="#fff" stroke-opacity="0.9" stroke-width="1.1" stroke-linejoin="round" stroke-linecap="round"/>
<polyline points="710.0,321.2 713.8,318.8 718.8,318.1 724.4,318.8 730.0,318.1 735.0,316.9 737.5,313.1" fill="none" stroke="#fff" stroke-opacity="0.9" stroke-width="1.1" stroke-linejoin="round" stroke-linecap="round"/>
<polyline points="735.0,309.4 740.0,308.1 747.5,308.8 750.0,311.2 746.2,315.0 740.0,316.9 735.0,316.9" fill="none" stroke="#fff" stroke-opacity="0.9" stroke-width="1.1" stroke-linejoin="round" stroke-linecap="round"/>
<polyline points="752.5,297.5 753.1,302.5 751.2,306.9 747.5,308.8" fill="none" stroke="#fff" stroke-opacity="0.9" stroke-width="1.1" stroke-linejoin="round" stroke-linecap="round"/>
<polyline points="738.8,306.2 745.0,305.6 751.2,306.9 755.0,309.4 760.0,310.0 763.8,309.4" fill="none" stroke="#fff" stroke-opacity="0.9" stroke-width="1.1" stroke-linejoin="round" stroke-linecap="round"/>
<polyline points="752.5,297.5 760.0,296.9 767.5,297.5 775.0,295.6 780.0,297.5 785.0,301.2 792.5,303.8 797.5,307.5 796.2,312.5 790.0,315.0 785.0,317.5" fill="none" stroke="#fff" stroke-opacity="0.9" stroke-width="1.1" stroke-linejoin="round" stroke-linecap="round"/>
<polyline points="763.8,309.4 766.2,313.8 768.8,318.8" fill="none" stroke="#fff" stroke-opacity="0.9" stroke-width="1.1" stroke-linejoin="round" stroke-linecap="round"/>
<polyline points="763.8,309.4 767.5,313.8 769.4,318.1" fill="none" stroke="#fff" stroke-opacity="0.9" stroke-width="1.1" stroke-linejoin="round" stroke-linecap="round"/>
<polyline points="746.2,315.0 747.5,318.8 750.0,322.5 756.2,323.8 762.5,322.5 766.2,321.2" fill="none" stroke="#fff" stroke-opacity="0.9" stroke-width="1.1" stroke-linejoin="round" stroke-linecap="round"/>
<polyline points="750.0,322.5 750.6,327.5 752.5,331.2 757.5,331.9 762.5,330.6 765.0,332.5" fill="none" stroke="#fff" stroke-opacity="0.9" stroke-width="1.1" stroke-linejoin="round" stroke-linecap="round"/>
<polyline points="740.0,316.9 741.2,321.2 743.8,326.2 747.5,328.8 750.6,327.5" fill="none" stroke="#fff" stroke-opacity="0.9" stroke-width="1.1" stroke-linejoin="round" stroke-linecap="round"/>
<polyline points="745.0,335.0 750.0,333.1 755.0,332.5 760.0,333.1 763.1,331.5" fill="none" stroke="#fff" stroke-opacity="0.9" stroke-width="1.1" stroke-linejoin="round" stroke-linecap="round"/>
<polyline points="741.2,328.8 743.8,333.8 745.0,335.0" fill="none" stroke="#fff" stroke-opacity="0.9" stroke-width="1.1" stroke-linejoin="round" stroke-linecap="round"/>
<polyline points="730.0,318.1 732.5,322.5 737.5,326.2 741.2,328.8 743.8,326.2" fill="none" stroke="#fff" stroke-opacity="0.9" stroke-width="1.1" stroke-linejoin="round" stroke-linecap="round"/>
<polyline points="767.5,297.5 768.8,292.5" fill="none" stroke="#fff" stroke-opacity="0.9" stroke-width="1.1" stroke-linejoin="round" stroke-linecap="round"/>
<polyline points="803.8,335.0 807.5,337.5 806.2,342.5 805.0,346.2 795.0,347.5 785.0,349.0" fill="none" stroke="#fff" stroke-opacity="0.9" stroke-width="1.1" stroke-linejoin="round" stroke-linecap="round"/>
<polyline points="797.5,328.1 803.8,328.8 810.0,331.2 815.0,332.5" fill="none" stroke="#fff" stroke-opacity="0.9" stroke-width="1.1" stroke-linejoin="round" stroke-linecap="round"/>
<polyline points="767.5,213.8 768.8,221.2 771.2,226.2 768.8,232.5 771.2,240.0 773.1,246.2 775.0,252.5 771.2,257.5 766.2,261.2" fill="none" stroke="#fff" stroke-opacity="0.9" stroke-width="1.1" stroke-linejoin="round" stroke-linecap="round"/>
<polyline points="747.5,222.5 752.5,223.8 755.0,227.5 755.6,237.5" fill="none" stroke="#fff" stroke-opacity="0.9" stroke-width="1.1" stroke-linejoin="round" stroke-linecap="round"/>
<polyline points="752.5,223.8 758.8,220.0 765.0,217.5 770.0,220.0" fill="none" stroke="#fff" stroke-opacity="0.9" stroke-width="1.1" stroke-linejoin="round" stroke-linecap="round"/>
</g>
<polygon points="763.8,328.8 765.6,325.0 768.8,320.6 772.5,317.2 776.2,316.2 780.0,318.5 783.1,321.2 786.2,319.8 791.2,322.5 795.0,325.0 797.5,328.1 798.8,331.9 797.5,333.8 790.0,333.1 782.5,332.2 775.0,331.9 768.8,333.1 766.2,334.6 764.8,333.1" fill="#ffffff"/>
<polygon points="812.5,320.0 816.2,315.0 821.2,312.5 827.5,313.1 830.6,316.2 829.4,320.0 826.2,322.5 828.8,326.2 831.2,331.2 835.0,333.8 833.8,336.2 829.4,337.5 830.0,342.5 832.5,346.9 830.0,350.0 825.0,349.4 821.2,346.2 818.8,341.2 818.8,336.2 817.5,331.2 814.4,326.2" fill="#ffffff"/>
<polygon points="737.5,260.0 738.8,252.5 743.8,247.5 747.5,242.5 750.6,238.1 755.0,237.5 758.1,239.4 756.9,243.8 752.5,247.5 748.8,252.5 748.1,260.0" fill="#ffffff"/>
<polygon points="845.0,318.1 848.1,315.6 851.2,316.2 851.9,321.2 849.4,324.4 846.2,323.1" fill="#ffffff"/>
<polygon points="888.1,318.1 890.0,315.0 895.0,313.8 903.8,313.1 903.8,315.0 896.2,315.6 891.9,317.5 890.0,319.4" fill="#ffffff"/>
<polygon points="663.8,290.0 667.5,287.5 673.8,288.1 674.4,292.5 671.2,295.6 665.0,296.9" fill="#ffc000"/>
<polygon points="678.8,300.6 681.9,292.5 690.0,290.0 693.8,295.0 692.8,297.5 694.0,299.5 688.8,301.2 681.2,302.5" fill="#ffc000"/>
<polygon points="714.4,330.6 716.2,330.4 716.5,335.0 714.8,335.2" fill="#ffc000"/>
<polygon points="713.8,336.5 716.9,336.2 717.1,342.2 714.1,342.8" fill="#ffc000"/>
<polygon points="725.6,346.2 731.2,345.6 730.6,348.8 727.5,348.2" fill="#ffc000"/>
<polygon points="755.0,354.1 760.0,354.5 760.0,355.4 755.2,355.1" fill="#ffc000"/>
<polygon points="776.2,355.6 780.0,355.4 780.2,356.8 776.6,357.0" fill="#f9dc6b"/>
<polygon points="760.6,162.8 768.1,160.0 779.4,158.1 790.6,158.1 801.9,158.1 809.4,160.9 803.8,165.6 794.4,163.8 790.6,170.3 785.0,167.5 779.4,173.1 774.7,179.7 770.0,175.0 766.3,169.4" fill="#f9dc6b"/>
<polygon points="691.3,229.4 696.9,227.5 706.3,228.4 715.6,230.3 719.4,235.0 713.8,238.8 704.4,240.6 696.9,237.8 692.2,234.1" fill="#f9dc6b"/>
<polygon points="826.2,200.6 830.0,197.5 833.8,192.5 836.2,188.8 840.0,182.5 845.6,179.0 851.9,179.4 850.0,183.1 843.1,190.0 840.0,195.0 837.5,200.0 841.2,205.6 836.2,206.2 831.2,203.8" fill="#ffc000"/>
<polygon points="817.5,214.4 821.2,214.0 821.5,215.8 817.8,216.0" fill="#ffc000"/>
<polygon points="939.1,150.3 943.8,144.7 949.4,143.8 951.3,148.4 943.8,152.2" fill="#ffc000"/>
<polygon points="944.7,153.1 951.3,151.3 958.8,153.1 956.9,157.8 949.4,156.9" fill="#ffc000"/>
<polygon points="958.8,160.6 964.4,155.9 970.0,157.8 973.8,160.6 966.3,162.5 959.7,164.0" fill="#ffc000"/>
<polygon points="850.0,179.4 861.3,174.7 874.4,171.9 873.4,174.7 861.3,179.4 850.0,184.1" fill="#ffc000"/>
<polygon points="1063.8,179.4 1067.5,176.6 1075.0,177.5 1084.4,178.4 1084.4,182.2 1075.0,183.1 1067.5,183.5" fill="#ffc000"/>
<polygon points="1074.1,189.7 1080.6,190.3 1081.0,192.5 1074.6,192.5" fill="#ffc000"/>
<polygon points="1090.1,182.0 1100.5,182.8 1101.1,185.2 1091.0,184.9" fill="#ffc000"/>
<polygon points="1076.2,290.0 1080.0,293.8 1082.5,303.8 1080.0,306.2 1081.2,313.8 1078.8,316.2 1076.9,312.5 1078.1,305.0 1076.9,297.5" fill="#ffc000"/>
<polygon points="580.6,164.7 597.5,161.9 618.1,158.1 635.0,155.3 653.8,153.4 670.6,154.4 681.9,158.1 672.5,161.9 680.0,163.8 695.0,163.4 707.2,164.7 698.8,169.4 691.3,175.0 685.6,182.5 685.0,186.2 690.0,191.2 688.8,198.8 686.2,205.0 680.0,211.2 683.8,218.8 682.5,223.8 678.8,226.9 672.5,230.0 666.2,232.5 660.0,235.0 655.0,238.8 648.8,242.5 642.5,246.2 636.2,250.0 633.8,255.0 631.2,261.2 628.8,267.5 625.0,268.1 620.0,266.2 615.0,261.2 610.0,255.0 606.2,248.8 603.1,242.5 603.8,236.2 608.8,232.5 608.1,226.2 603.8,222.5 598.8,217.5 596.2,211.2 592.5,205.0 587.5,200.0 580.0,196.2 571.3,196.6 561.9,194.7 569.4,191.9 563.8,186.3 571.3,181.6 565.6,176.9 571.3,173.1" fill="#f9dc6b"/>
<polygon points="1106.2,320.6 1110.0,323.1 1116.2,325.0 1112.5,328.8 1108.8,330.6 1104.4,328.8 1101.9,330.2 1101.0,328.8 1104.4,326.2" fill="#d9d9d9"/>
<polygon points="1101.2,336.2 1103.8,336.9 1104.4,342.5 1102.5,348.8 1100.0,353.8 1096.2,356.9 1091.2,358.1 1087.5,360.6 1082.5,358.1 1077.5,358.8 1075.0,360.2 1076.0,357.8 1081.2,355.6 1087.5,354.4 1091.2,351.2 1096.2,348.8 1099.4,342.5" fill="#d9d9d9"/>
<polygon points="1078.8,361.2 1083.8,361.5 1082.8,363.8 1079.4,363.5" fill="#d9d9d9"/>
<polygon points="1072.5,363.1 1075.6,362.5 1076.2,365.6 1073.8,370.0 1072.2,366.9" fill="#d9d9d9"/>
<polygon points="1061.2,346.2 1065.0,345.0 1068.1,347.5 1068.8,352.5 1066.2,356.2 1061.9,358.1 1060.6,353.8" fill="#d9d9d9"/>
<polygon points="1016.2,391.9 1018.8,388.1 1020.2,389.4 1019.0,393.8 1016.9,396.2" fill="#bf9000"/>
<polygon points="983.8,405.0 987.5,403.8 988.8,405.6 986.2,408.8 984.0,407.8" fill="#bf9000"/>
<polygon points="905.5,437.5 908.8,438.8 909.5,443.8 907.0,447.0 905.0,442.5" fill="#bf9000"/>
<polygon points="946.9,449.4 950.6,450.0 955.0,455.0 960.0,460.0 965.0,463.8 968.8,467.5 972.5,472.5 975.0,478.8 972.5,483.8 967.5,480.0 961.2,471.2 956.9,465.0 952.5,458.8 948.8,453.8" fill="#bf9000"/>
<polygon points="975.0,483.8 985.0,485.0 997.5,488.0 1000.0,490.0 990.0,489.2 977.5,487.0" fill="#bf9000"/>
<polygon points="1001.2,489.5 1010.0,490.0 1010.2,491.8 1001.5,491.5" fill="#bf9000"/>
<polygon points="1012.5,491.2 1020.0,492.0 1020.0,494.0 1012.8,493.2" fill="#bf9000"/>
<polygon points="1023.8,492.5 1032.5,489.5 1034.0,491.0 1025.5,494.0" fill="#bf9000"/>
<polygon points="984.0,461.2 987.5,460.0 992.5,457.5 997.5,453.8 1001.9,448.1 1005.0,445.0 1008.1,446.2 1011.2,448.5 1007.5,451.2 1006.9,456.2 1010.6,461.2 1006.9,465.0 1005.0,470.0 1003.8,475.0 1000.0,478.8 992.5,477.5 986.2,473.8 983.8,466.2" fill="#bf9000"/>
<polyline points="988.8,460.0 995.0,458.1 1000.0,455.0 1005.0,451.9 1007.5,451.2" fill="none" stroke="#fff" stroke-opacity="0.9" stroke-width="1.0" stroke-linejoin="round" stroke-linecap="round"/>
<polygon points="1012.5,467.5 1017.5,462.5 1027.5,461.2 1022.5,466.2 1018.8,467.5 1021.2,477.5 1017.5,475.0 1015.0,480.0 1012.0,475.0" fill="#bf9000"/>
<polygon points="1016.2,410.0 1020.0,409.8 1020.2,414.4 1018.8,418.8 1017.5,422.5 1015.6,420.0 1014.8,416.2 1016.0,413.1" fill="#bf9000"/>
<polygon points="1020.6,422.5 1023.8,423.1 1027.5,427.5 1029.4,431.2 1026.9,430.0 1023.8,426.2 1021.2,424.4" fill="#bf9000"/>
<polygon points="1020.0,430.0 1022.5,430.6 1024.4,433.8 1023.1,436.9 1021.0,433.8" fill="#bf9000"/>
<polygon points="1007.5,438.1 1012.5,432.5 1013.2,433.5 1008.5,439.0" fill="#bf9000"/>
<polygon points="1020.6,441.9 1023.8,440.0 1027.5,438.8 1030.0,436.9 1032.2,438.8 1031.9,443.8 1028.8,446.9 1026.9,443.8 1023.8,442.5" fill="#bf9000"/>
<polygon points="1036.2,460.0 1038.8,460.0 1039.0,464.0 1036.5,463.8" fill="#bf9000"/>
<polygon points="1046.2,467.5 1052.5,466.2 1056.2,472.5 1062.5,470.0 1072.5,472.5 1082.5,476.2 1090.0,482.5 1093.8,487.5 1100.0,495.0 1092.5,493.8 1085.0,488.8 1078.8,491.2 1072.5,490.0 1065.0,485.0 1060.0,480.0 1052.5,475.0 1048.8,471.2" fill="#bf9000"/>
<polygon points="1095.0,481.2 1105.0,477.5 1105.5,479.5 1096.2,483.0" fill="#bf9000"/>
<polygon points="997.5,532.5 1005.0,527.5 1017.5,521.2 1025.0,516.2 1030.0,510.0 1036.2,507.5 1041.2,510.0 1043.8,503.8 1052.5,501.2 1060.0,503.0 1062.5,508.8 1067.5,513.8 1072.5,517.5 1075.0,510.0 1076.2,500.0 1078.0,498.0 1081.2,507.5 1085.0,513.8 1087.5,522.5 1093.8,528.8 1100.0,536.2 1105.0,543.8 1107.5,552.5 1106.2,562.5 1102.5,572.5 1098.8,580.0 1095.0,583.8 1087.5,586.2 1080.0,585.0 1072.5,581.2 1068.8,575.0 1065.0,567.5 1062.5,571.2 1058.8,566.2 1055.0,563.8 1045.0,562.5 1035.0,563.8 1022.5,567.5 1012.5,571.2 1005.0,573.0 1001.2,570.0 1002.5,562.5 1000.0,552.5 996.2,542.5" fill="#bf9000"/>
<polygon points="1084.5,595.0 1092.5,594.5 1092.0,600.0 1088.8,603.2 1085.5,600.0" fill="#bf9000"/>
<polygon points="1163.8,573.8 1167.5,576.2 1171.2,582.5 1178.8,583.8 1176.2,590.0 1172.5,596.2 1170.0,591.2 1166.2,587.5 1167.5,581.2" fill="#bf9000"/>
<polygon points="1166.2,595.0 1162.5,602.5 1157.5,608.8 1151.2,615.0 1146.2,612.5 1150.0,606.2 1157.5,600.0 1162.5,595.5" fill="#bf9000"/>
<polyline points="686.3,351.3 684.4,360.6 675.0,368.1 665.6,373.8 665.6,380.3 654.4,380.3" fill="none" stroke="#fff" stroke-opacity="0.9" stroke-width="1.1" stroke-linejoin="round" stroke-linecap="round"/>
<polyline points="665.6,380.3 663.8,385.0 654.4,385.0 652.5,394.4 644.1,395.3" fill="none" stroke="#fff" stroke-opacity="0.9" stroke-width="1.1" stroke-linejoin="round" stroke-linecap="round"/>
<polyline points="665.6,380.3 673.1,386.9 672.2,403.8 658.1,403.8 656.3,411.3 648.8,412.2" fill="none" stroke="#fff" stroke-opacity="0.9" stroke-width="1.1" stroke-linejoin="round" stroke-linecap="round"/>
<polyline points="665.6,373.8 684.4,386.9 699.4,398.1 705.0,396.3 716.3,390.6" fill="none" stroke="#fff" stroke-opacity="0.9" stroke-width="1.1" stroke-linejoin="round" stroke-linecap="round"/>
<polyline points="710.6,351.3 709.7,358.8 715.3,366.3 716.3,377.5 716.3,390.6 729.4,392.5 750.0,401.9 755.6,401.9 755.6,365.3" fill="none" stroke="#fff" stroke-opacity="0.9" stroke-width="1.1" stroke-linejoin="round" stroke-linecap="round"/>
<polyline points="755.6,394.4 780.0,394.4" fill="none" stroke="#fff" stroke-opacity="0.9" stroke-width="1.1" stroke-linejoin="round" stroke-linecap="round"/>
<polyline points="729.4,392.5 731.3,407.5 727.5,416.9 725.6,420.6" fill="none" stroke="#fff" stroke-opacity="0.9" stroke-width="1.1" stroke-linejoin="round" stroke-linecap="round"/>
<polyline points="699.4,398.1 700.3,407.5 691.9,415.0 686.3,415.0 678.8,420.6 672.2,415.0 672.2,403.8" fill="none" stroke="#fff" stroke-opacity="0.9" stroke-width="1.1" stroke-linejoin="round" stroke-linecap="round"/>
<polyline points="691.9,415.0 701.3,418.8 714.4,419.7 725.6,420.6 727.5,428.1 721.9,437.5 716.3,444.1" fill="none" stroke="#fff" stroke-opacity="0.9" stroke-width="1.1" stroke-linejoin="round" stroke-linecap="round"/>
<polyline points="750.0,401.9 748.1,415.0 746.3,422.5 751.9,428.1 761.3,430.0" fill="none" stroke="#fff" stroke-opacity="0.9" stroke-width="1.1" stroke-linejoin="round" stroke-linecap="round"/>
<polyline points="727.5,422.5 735.0,428.1 746.3,422.5" fill="none" stroke="#fff" stroke-opacity="0.9" stroke-width="1.1" stroke-linejoin="round" stroke-linecap="round"/>
<polyline points="648.8,412.2 658.1,415.0 660.0,422.5 654.4,422.5" fill="none" stroke="#fff" stroke-opacity="0.9" stroke-width="1.1" stroke-linejoin="round" stroke-linecap="round"/>
<polyline points="660.0,422.5 667.5,428.1 663.8,433.8" fill="none" stroke="#fff" stroke-opacity="0.9" stroke-width="1.1" stroke-linejoin="round" stroke-linecap="round"/>
<polyline points="667.5,428.1 676.9,426.3 678.8,441.3" fill="none" stroke="#fff" stroke-opacity="0.9" stroke-width="1.1" stroke-linejoin="round" stroke-linecap="round"/>
<polyline points="678.8,420.6 678.8,426.3 686.3,422.5 691.9,424.4 690.0,442.2" fill="none" stroke="#fff" stroke-opacity="0.9" stroke-width="1.1" stroke-linejoin="round" stroke-linecap="round"/>
<polyline points="692.8,424.4 694.7,441.3" fill="none" stroke="#fff" stroke-opacity="0.9" stroke-width="1.1" stroke-linejoin="round" stroke-linecap="round"/>
<polyline points="695.6,424.4 698.4,440.3" fill="none" stroke="#fff" stroke-opacity="0.9" stroke-width="1.1" stroke-linejoin="round" stroke-linecap="round"/>
<polyline points="727.5,433.8 735.0,437.5 746.3,433.8 751.9,428.1" fill="none" stroke="#fff" stroke-opacity="0.9" stroke-width="1.1" stroke-linejoin="round" stroke-linecap="round"/>
<polyline points="716.3,450.6 727.5,450.6 731.3,445.0 727.5,433.8 727.5,428.1" fill="none" stroke="#fff" stroke-opacity="0.9" stroke-width="1.1" stroke-linejoin="round" stroke-linecap="round"/>
<polyline points="727.5,450.6 725.6,460.0 718.1,463.8" fill="none" stroke="#fff" stroke-opacity="0.9" stroke-width="1.1" stroke-linejoin="round" stroke-linecap="round"/>
<polyline points="731.3,456.3 735.0,463.8 731.3,471.3" fill="none" stroke="#fff" stroke-opacity="0.9" stroke-width="1.1" stroke-linejoin="round" stroke-linecap="round"/>
<polyline points="784.7,366.3 787.5,360.6" fill="none" stroke="#fff" stroke-opacity="0.9" stroke-width="1.1" stroke-linejoin="round" stroke-linecap="round"/>
<polyline points="810.0,415.0 821.3,409.4 832.5,405.6 838.1,396.3 843.8,392.5" fill="none" stroke="#fff" stroke-opacity="0.9" stroke-width="1.1" stroke-linejoin="round" stroke-linecap="round"/>
<polyline points="721.2,503.8 732.5,504.4 743.8,505.0 747.5,506.2 756.2,505.6" fill="none" stroke="#fff" stroke-opacity="0.9" stroke-width="1.1" stroke-linejoin="round" stroke-linecap="round"/>
<polyline points="744.4,506.2 743.8,515.0 741.9,520.0 742.5,528.8 741.2,535.0 737.5,538.1 733.8,536.2" fill="none" stroke="#fff" stroke-opacity="0.9" stroke-width="1.1" stroke-linejoin="round" stroke-linecap="round"/>
<polyline points="747.5,506.2 757.5,506.2 761.2,512.5 766.2,517.5 761.2,522.5 756.2,526.2 750.0,528.8 744.4,530.0 743.1,527.5" fill="none" stroke="#fff" stroke-opacity="0.9" stroke-width="1.1" stroke-linejoin="round" stroke-linecap="round"/>
<polyline points="757.5,506.2 762.5,501.2 770.0,498.1 775.0,501.2 777.5,506.2 775.0,513.8 771.9,518.1 766.2,517.5" fill="none" stroke="#fff" stroke-opacity="0.9" stroke-width="1.1" stroke-linejoin="round" stroke-linecap="round"/>
<polyline points="746.2,476.2 747.5,486.2 751.9,486.9 751.2,492.5 747.5,493.1 746.9,500.0 747.5,506.2" fill="none" stroke="#fff" stroke-opacity="0.9" stroke-width="1.1" stroke-linejoin="round" stroke-linecap="round"/>
<polyline points="751.9,486.9 765.0,490.6 767.5,493.1" fill="none" stroke="#fff" stroke-opacity="0.9" stroke-width="1.1" stroke-linejoin="round" stroke-linecap="round"/>
<polyline points="765.0,481.2 765.0,490.6" fill="none" stroke="#fff" stroke-opacity="0.9" stroke-width="1.1" stroke-linejoin="round" stroke-linecap="round"/>
<polyline points="777.5,482.5 780.0,490.0 783.1,495.0 785.0,498.8 782.5,503.1 780.0,500.0 778.8,493.8 776.2,488.8 777.5,482.5" fill="none" stroke="#fff" stroke-opacity="0.9" stroke-width="1.1" stroke-linejoin="round" stroke-linecap="round"/>
<polyline points="771.9,518.1 773.8,523.8 775.0,528.8" fill="none" stroke="#fff" stroke-opacity="0.9" stroke-width="1.1" stroke-linejoin="round" stroke-linecap="round"/>
<polyline points="760.6,540.0 762.5,537.8 765.6,537.5 766.9,539.8 765.0,542.2 761.9,542.5 760.6,540.0" fill="none" stroke="#fff" stroke-opacity="0.9" stroke-width="1.1" stroke-linejoin="round" stroke-linecap="round"/>
<polyline points="771.0,531.2 772.5,529.8 774.0,531.2 772.5,532.8 771.0,531.2" fill="none" stroke="#fff" stroke-opacity="0.9" stroke-width="1.1" stroke-linejoin="round" stroke-linecap="round"/>
<polyline points="724.4,473.8 733.8,473.8 736.2,478.1 746.2,476.9" fill="none" stroke="#fff" stroke-opacity="0.9" stroke-width="1.1" stroke-linejoin="round" stroke-linecap="round"/>
<polyline points="767.5,493.1 770.0,498.1" fill="none" stroke="#fff" stroke-opacity="0.9" stroke-width="1.1" stroke-linejoin="round" stroke-linecap="round"/>
<polyline points="775.0,501.2 780.0,500.0" fill="none" stroke="#fff" stroke-opacity="0.9" stroke-width="1.1" stroke-linejoin="round" stroke-linecap="round"/>
<polyline points="782.5,503.1 787.5,506.2" fill="none" stroke="#fff" stroke-opacity="0.9" stroke-width="1.1" stroke-linejoin="round" stroke-linecap="round"/>
<polyline points="785.0,488.8 790.0,488.1 796.9,486.2" fill="none" stroke="#fff" stroke-opacity="0.9" stroke-width="1.1" stroke-linejoin="round" stroke-linecap="round"/>
<polyline points="557.5,423.8 555.0,428.8 558.8,432.5 565.0,434.4 566.2,440.0" fill="none" stroke="#fff" stroke-opacity="0.9" stroke-width="1.1" stroke-linejoin="round" stroke-linecap="round"/>
<polyline points="536.9,448.8 542.5,448.1 548.8,451.2 546.9,455.0 541.2,458.8 536.2,463.8" fill="none" stroke="#fff" stroke-opacity="0.9" stroke-width="1.1" stroke-linejoin="round" stroke-linecap="round"/>
<polyline points="566.2,446.2 562.5,447.5 563.1,453.8 560.6,458.1 556.2,462.5 553.1,467.5 553.8,473.8 556.2,477.5" fill="none" stroke="#fff" stroke-opacity="0.9" stroke-width="1.1" stroke-linejoin="round" stroke-linecap="round"/>
<polyline points="606.2,436.9 607.5,442.5 605.0,446.2" fill="none" stroke="#fff" stroke-opacity="0.9" stroke-width="1.1" stroke-linejoin="round" stroke-linecap="round"/>
<polyline points="612.5,440.0 611.9,445.0 609.4,447.5" fill="none" stroke="#fff" stroke-opacity="0.9" stroke-width="1.1" stroke-linejoin="round" stroke-linecap="round"/>
<polyline points="570.0,512.5 566.2,520.0 563.1,530.0 561.2,540.0 560.0,550.0 558.1,560.0 556.9,570.0 557.5,580.0 556.9,590.0" fill="none" stroke="#fff" stroke-opacity="0.9" stroke-width="1.1" stroke-linejoin="round" stroke-linecap="round"/>
<polyline points="583.8,512.5 590.0,516.2 595.0,518.8 593.1,525.0 600.0,525.0 605.0,522.5 604.4,516.2 600.6,512.5" fill="none" stroke="#fff" stroke-opacity="0.9" stroke-width="1.1" stroke-linejoin="round" stroke-linecap="round"/>
<polyline points="605.0,522.5 600.0,528.8 596.2,533.8 593.8,541.2 593.1,546.9" fill="none" stroke="#fff" stroke-opacity="0.9" stroke-width="1.1" stroke-linejoin="round" stroke-linecap="round"/>
<polyline points="596.2,533.8 602.5,535.6 606.9,540.0" fill="none" stroke="#fff" stroke-opacity="0.9" stroke-width="1.1" stroke-linejoin="round" stroke-linecap="round"/>
<polyline points="376.5,232.2 377.2,271.2 382.5,273.8 387.5,277.5 392.5,282.5 396.2,287.5" fill="none" stroke="#fff" stroke-opacity="0.9" stroke-width="1.1" stroke-linejoin="round" stroke-linecap="round"/>
<rect x="1178" y="260" width="2" height="2" fill="#3a5f8a"/>
<polyline points="503.8,405.0 507.5,403.8 510.0,401.2 512.5,402.5" fill="none" stroke="#fff" stroke-opacity="0.9" stroke-width="1.1" stroke-linejoin="round" stroke-linecap="round"/>
<polyline points="510.0,401.2 513.1,406.2 510.0,408.8 505.0,410.0" fill="none" stroke="#fff" stroke-opacity="0.9" stroke-width="1.1" stroke-linejoin="round" stroke-linecap="round"/>
<polyline points="515.0,412.5 520.0,411.2 526.2,411.9" fill="none" stroke="#fff" stroke-opacity="0.9" stroke-width="1.1" stroke-linejoin="round" stroke-linecap="round"/>
<polyline points="523.1,421.2 526.2,420.0" fill="none" stroke="#fff" stroke-opacity="0.9" stroke-width="1.1" stroke-linejoin="round" stroke-linecap="round"/>
<polyline points="530.0,427.5 531.2,425.0" fill="none" stroke="#fff" stroke-opacity="0.9" stroke-width="1.1" stroke-linejoin="round" stroke-linecap="round"/>
<polyline points="1073.2,474.0 1073.2,490.0" fill="none" stroke="#fff" stroke-opacity="0.9" stroke-width="1.0" stroke-linejoin="round" stroke-linecap="round"/>
<polyline points="380.0,310.6 480.0,311.2 496.2,310.6 503.1,314.4" fill="none" stroke="#fff" stroke-opacity="0.9" stroke-width="1.0" stroke-linejoin="round" stroke-linecap="round"/>
<polyline points="543.8,325.2 550.0,323.1 556.2,321.2 560.0,316.9 565.0,316.2 566.2,322.5" fill="none" stroke="#fff" stroke-opacity="0.9" stroke-width="1.0" stroke-linejoin="round" stroke-linecap="round"/>
<polyline points="439.4,361.9 446.2,362.5 450.0,365.6 458.8,365.6 466.2,363.8 470.0,366.2 473.8,370.6 477.5,370.0 482.5,373.1 486.2,376.9 488.8,380.0" fill="none" stroke="#fff" stroke-opacity="0.9" stroke-width="1.0" stroke-linejoin="round" stroke-linecap="round"/>
<polygon points="1167.0,594.5 1163.8,603.0 1158.8,610.0 1152.0,615.5 1146.2,613.0 1149.5,605.8 1157.0,599.5 1162.0,595.0" fill="#bf9000"/>
<!--/MAP-->
</svg>
<div id="title">金属粉体塗装市場の成長影響分析、地域別<b>(2026—2035</b><span class="nen">年</span><b>)</b></div>

<div class="pill" style="top:320px;background:#bf9000;"></div>
<div class="pill" style="top:368px;background:#ffc000;"></div>
<div class="pill" style="top:415px;background:#f9dc6b;"></div>
<div class="lg" style="top:316px;">中位</div>
<div class="lg" style="top:364px;">高い</div>
<div class="lg" style="top:411px;">低い</div>

<div id="src">ソース&nbsp; : SDKI Analytics 分析</div>

<div id="footer"></div>
<div id="fl">www.sdki.jp | +81-505-050-9337| info@sdki.jp</div>
<div id="fr">SDKI (<i class="k">渋谷データ</i> <span>カウント</span>)</div>

<svg id="pins" viewBox="0 0 1280 720" style="position:absolute;left:0;top:0;width:1280px;height:720px;">
<defs><filter id="bl" x="-50%" y="-100%" width="200%" height="300%"><feGaussianBlur stdDeviation="3"/></filter></defs>
<ellipse cx="969" cy="320.5" rx="19" ry="4.2" fill="#4a3a00" opacity="0.33" filter="url(#bl)"/>
<ellipse cx="592.5" cy="469.5" rx="19" ry="4.2" fill="#4a3a00" opacity="0.33" filter="url(#bl)"/>
<ellipse cx="803" cy="426" rx="19" ry="4.2" fill="#4a3a00" opacity="0.33" filter="url(#bl)"/>
<path d="M503.3,222.6 Q497.2,215.1 489.1,208.6 A20.2,20.2 0 1 1 517.5,208.6 Q509.4,215.1 503.3,222.6Z" fill="#27346f"/><circle cx="503.3" cy="193.7" r="10.3" fill="#fff"/>
<path d="M725.3,246.6 Q719.2,239.1 711.1,232.6 A20.2,20.2 0 1 1 739.5,232.6 Q731.4,239.1 725.3,246.6Z" fill="#27346f"/><circle cx="725.3" cy="217.7" r="10.3" fill="#fff"/>
<path d="M964.0,313.3 Q957.9,305.8 949.8,299.3 A20.2,20.2 0 1 1 978.2,299.3 Q970.1,305.8 964.0,313.3Z" fill="#27346f"/><circle cx="964.0" cy="284.4" r="10.3" fill="#fff"/>
<path d="M797.0,419.9 Q790.9,412.4 782.8,405.9 A20.2,20.2 0 1 1 811.2,405.9 Q803.1,412.4 797.0,419.9Z" fill="#27346f"/><circle cx="797.0" cy="391.0" r="10.3" fill="#fff"/>
<path d="M586.0,462.6 Q579.9,455.1 571.8,448.6 A20.2,20.2 0 1 1 600.2,448.6 Q592.1,455.1 586.0,462.6Z" fill="#27346f"/><circle cx="586.0" cy="433.7" r="10.3" fill="#fff"/>
</svg>
<div class="lab" style="left:435px;top:226px;width:133.7px;height:34.5px;border-radius:17.25px;"><div style="top:10.0px;">北米</div></div>
<div class="lab" style="left:677px;top:262px;width:98px;height:34.7px;border-radius:17.35px;"><div style="top:9.0px;">ヨーロッパ</div></div>
<div class="lab" style="left:905px;top:325.8px;width:116.3px;height:35.5px;border-radius:17.75px;"><div style="top:2.8px;">アジア太平洋</div><div style="top:18.4px;">地域</div></div>
<div class="lab" style="left:738px;top:425px;width:120px;height:56px;border-radius:27.5px;"><div style="top:12.5px;">中東</div><div style="top:29.2px;">とアフリカ</div></div>
<div class="lab" style="left:513.7px;top:477px;width:146.3px;height:35px;border-radius:17.5px;"><div style="top:11.0px;">ラテンアメリカ</div></div>

</body>
</html>
